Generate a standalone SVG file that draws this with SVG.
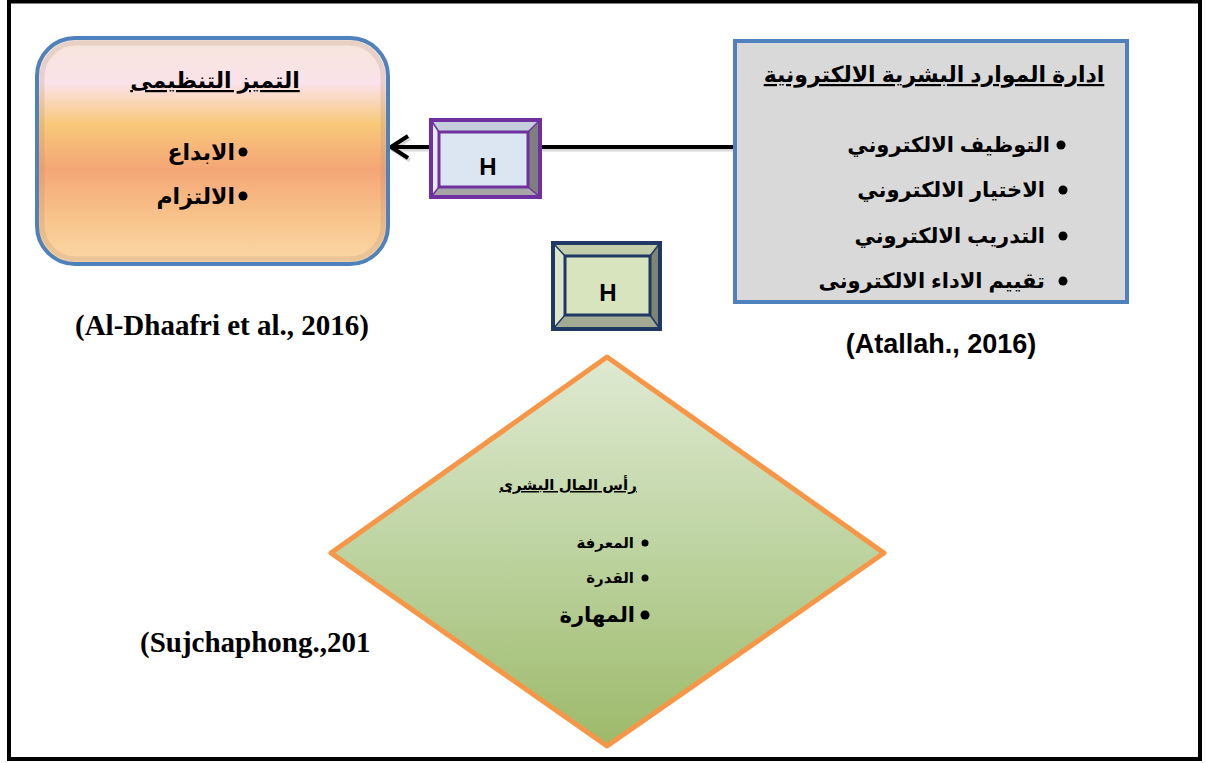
<svg xmlns="http://www.w3.org/2000/svg" width="1206" height="763" viewBox="0 0 1206 763">
<style>
.ar{font-family:"Liberation Sans","DejaVu Sans",sans-serif;font-weight:bold;fill:#000}
.tm{font-family:"Liberation Serif",serif;font-weight:bold;fill:#000}
.sn{font-family:"Liberation Sans",sans-serif;font-weight:bold;fill:#000}
.conn{stroke:#000;stroke-width:4;fill:none}
</style>
<defs>
<linearGradient id="gOrange" x1="0" y1="0" x2="0" y2="1">
<stop offset="0" stop-color="#F5E6DA"/>
<stop offset="0.2" stop-color="#FBE2EA"/>
<stop offset="0.38" stop-color="#F8C87A"/>
<stop offset="0.58" stop-color="#F4A676"/>
<stop offset="0.8" stop-color="#F8C48C"/>
<stop offset="1" stop-color="#FAD8A6"/>
</linearGradient>
<linearGradient id="gGreen" x1="0" y1="0" x2="0" y2="1">
<stop offset="0" stop-color="#DFEAD2"/>
<stop offset="0.5" stop-color="#BDD3A0"/>
<stop offset="1" stop-color="#9DBA6A"/>
</linearGradient>
<marker id="arr" viewBox="0 0 22 26" refX="19" refY="13" markerWidth="22" markerHeight="26" markerUnits="userSpaceOnUse" orient="auto">
<path d="M2 2 L19 13 L2 24" fill="none" stroke="#000" stroke-width="4" stroke-linejoin="miter"/>
</marker>
<marker id="arrSh" viewBox="0 0 22 26" refX="19" refY="13" markerWidth="22" markerHeight="26" markerUnits="userSpaceOnUse" orient="auto">
<path d="M2 2 L19 13 L2 24" fill="none" stroke="#000" stroke-opacity="0.15" stroke-width="4"/>
</marker>
</defs>
<rect x="0" y="0" width="1206" height="763" fill="#fff"/>
<rect x="9" y="1.5" width="1191" height="757.5" fill="none" stroke="#000" stroke-width="4"/>

<g id="connectors">
<line x1="736" y1="149.5" x2="393" y2="149.5" stroke="#000" stroke-opacity="0.15" stroke-width="4" marker-end="url(#arrSh)"/>
<line class="conn" x1="735" y1="147" x2="391" y2="147" marker-end="url(#arr)"/>
</g>

<g id="node-excellence">
<rect x="37" y="38" width="351" height="226" rx="38" fill="url(#gOrange)" stroke="#4F81BD" stroke-width="4"/>
<rect x="42" y="43" width="341" height="216" rx="34" fill="none" stroke="#B08A70" stroke-opacity="0.22" stroke-width="5"/>
<text class="ar" x="215" y="88" font-size="22" text-anchor="middle" text-decoration="underline">التميز التنظيمى</text>
<circle cx="243" cy="152" r="4.5"/>
<text class="ar" x="235" y="160" font-size="22" text-anchor="end">الابداع</text>
<circle cx="243" cy="196" r="4.5"/>
<text class="ar" x="235" y="204" font-size="22" text-anchor="end">الالتزام</text>
</g>

<g id="node-ehrm">
<rect x="735" y="41" width="392" height="261" fill="#D9D9D9" stroke="#4F81BD" stroke-width="4"/>
<text class="ar" x="934" y="82" font-size="22" text-anchor="middle" text-decoration="underline">ادارة الموارد البشرية الالكترونية</text>
<circle cx="1061" cy="145" r="4.5"/>
<text class="ar" x="1050" y="152" font-size="21" text-anchor="end">التوظيف الالكتروني</text>
<circle cx="1063" cy="190" r="4.5"/>
<text class="ar" x="1045" y="197" font-size="21" text-anchor="end">الاختيار الالكتروني</text>
<circle cx="1063" cy="236" r="4.5"/>
<text class="ar" x="1045" y="243" font-size="21" text-anchor="end">التدريب الالكتروني</text>
<circle cx="1063" cy="281" r="4.5"/>
<text class="ar" x="1045" y="288" font-size="21" text-anchor="end">تقييم الاداء الالكترونى</text>
</g>

<g id="node-h1">
<rect x="431" y="120" width="109" height="77" fill="#DCE6F2" stroke="#7030A0" stroke-width="4"/>
<polygon points="431,120 540,120 528,132 439,132" fill="#C5CFDC"/>
<polygon points="431,120 439,132 439,187 431,197" fill="#E4EBF4"/>
<polygon points="540,120 540,197 528,187 528,132" fill="#7F7F7F"/>
<polygon points="431,197 540,197 528,187 439,187" fill="#A6A6A6"/>
<rect x="439" y="132" width="89" height="55" fill="#DCE6F2" stroke="#7030A0" stroke-width="3"/>
<rect x="431" y="120" width="109" height="77" fill="none" stroke="#7030A0" stroke-width="4"/>
<line x1="431" y1="120" x2="439" y2="132" stroke="#7030A0" stroke-width="1.5"/>
<line x1="540" y1="120" x2="528" y2="132" stroke="#7030A0" stroke-width="1.5"/>
<line x1="431" y1="197" x2="439" y2="187" stroke="#7030A0" stroke-width="1.5"/>
<line x1="540" y1="197" x2="528" y2="187" stroke="#7030A0" stroke-width="1.5"/>
<text class="sn" x="488" y="175" font-size="24" text-anchor="middle">H</text>
</g>

<g id="node-h2">
<rect x="553" y="243" width="107" height="86" fill="#D7E4BD" stroke="#1F3864" stroke-width="4"/>
<polygon points="553,243 660,243 650,256 565,256" fill="#C2CDAA"/>
<polygon points="553,243 565,256 565,315 553,329" fill="#DDE6CA"/>
<polygon points="660,243 660,329 650,315 650,256" fill="#7F8572"/>
<polygon points="553,329 660,329 650,315 565,315" fill="#A3AA92"/>
<rect x="565" y="256" width="85" height="59" fill="#D7E4BD" stroke="#1F3864" stroke-width="3"/>
<rect x="553" y="243" width="107" height="86" fill="none" stroke="#1F3864" stroke-width="4"/>
<line x1="553" y1="243" x2="565" y2="256" stroke="#1F3864" stroke-width="1.5"/>
<line x1="660" y1="243" x2="650" y2="256" stroke="#1F3864" stroke-width="1.5"/>
<line x1="553" y1="329" x2="565" y2="315" stroke="#1F3864" stroke-width="1.5"/>
<line x1="660" y1="329" x2="650" y2="315" stroke="#1F3864" stroke-width="1.5"/>
<text class="sn" x="608" y="301" font-size="24" text-anchor="middle">H</text>
</g>

<g id="node-human-capital">
<polygon points="607,357 884,553 607,746 331,553" fill="url(#gGreen)" stroke="#F79646" stroke-width="5" stroke-linejoin="round"/>
<text class="ar" x="568" y="490" font-size="15" text-anchor="middle" text-decoration="underline">رأس المال البشرى</text>
<circle cx="645" cy="543" r="3.5"/>
<text class="ar" x="634" y="548" font-size="15" text-anchor="end">المعرفة</text>
<circle cx="645" cy="578" r="3.5"/>
<text class="ar" x="634" y="583" font-size="15" text-anchor="end">القدرة</text>
<circle cx="645" cy="615" r="4.5"/>
<text class="ar" x="635" y="622" font-size="21" text-anchor="end">المهارة</text>
</g>

<g id="citations">
<text class="tm" x="222" y="335" font-size="29" text-anchor="middle">(Al-Dhaafri et al., 2016)</text>
<text class="sn" x="941" y="353" font-size="27" text-anchor="middle">(Atallah., 2016)</text>
<text class="tm" x="140" y="652" font-size="29">(Sujchaphong.,201</text>
</g>
</svg>
